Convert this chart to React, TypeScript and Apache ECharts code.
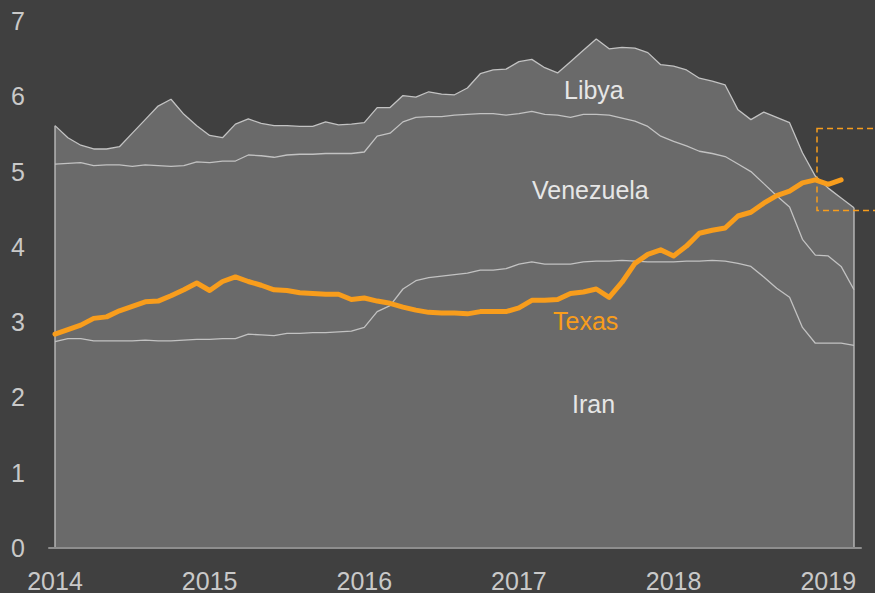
import React, { useEffect, useRef } from "react";
import * as echarts from "echarts";

// Monthly production, million barrels per day, Jan 2014 .. Mar 2019
const firstYear = 2014;
const yearTicks = [2014, 2015, 2016, 2017, 2018, 2019];
const yTicks = [0, 1, 2, 3, 4, 5, 6, 7];

const iran = [
  2.74, 2.78, 2.78, 2.75, 2.75, 2.75, 2.75, 2.76, 2.75, 2.75, 2.76, 2.77,
  2.77, 2.78, 2.78, 2.84, 2.83, 2.82, 2.85, 2.85, 2.86, 2.86, 2.87, 2.88,
  2.93, 3.14, 3.22, 3.44, 3.55, 3.59, 3.61, 3.63, 3.65, 3.69, 3.69, 3.71,
  3.77, 3.80, 3.77, 3.77, 3.77, 3.80, 3.81, 3.81, 3.82, 3.81, 3.80, 3.80,
  3.80, 3.81, 3.81, 3.82, 3.81, 3.78, 3.74, 3.60, 3.45, 3.33, 2.93, 2.72,
  2.72, 2.72, 2.69,
];

const venezuela = [
  2.36, 2.33, 2.34, 2.33, 2.34, 2.34, 2.32, 2.33, 2.33, 2.32, 2.32, 2.36,
  2.35, 2.36, 2.36, 2.38, 2.38, 2.37, 2.37, 2.38, 2.37, 2.38, 2.37, 2.36,
  2.33, 2.33, 2.29, 2.22, 2.17, 2.14, 2.12, 2.12, 2.11, 2.08, 2.08, 2.04,
  2.00, 2.00, 1.99, 1.98, 1.95, 1.96, 1.95, 1.94, 1.89, 1.86, 1.80, 1.67,
  1.60, 1.53, 1.46, 1.42, 1.39, 1.32, 1.26, 1.24, 1.23, 1.20, 1.17, 1.17,
  1.16, 1.02, 0.74,
];

const libya = [
  0.51, 0.34, 0.23, 0.22, 0.21, 0.24, 0.44, 0.60, 0.79, 0.89, 0.68, 0.48,
  0.36, 0.31, 0.49, 0.48, 0.43, 0.42, 0.39, 0.37, 0.37, 0.42, 0.38, 0.39,
  0.39, 0.38, 0.34, 0.35, 0.27, 0.33, 0.30, 0.27, 0.35, 0.53, 0.58, 0.61,
  0.69, 0.69, 0.62, 0.56, 0.74, 0.85, 1.00, 0.88, 0.94, 0.97, 0.98, 0.95,
  1.00, 1.01, 0.97, 0.96, 0.95, 0.72, 0.69, 0.95, 1.04, 1.12, 1.15, 1.05,
  0.90, 0.91, 1.09,
];

const texas = [
  2.84, 2.90, 2.96, 3.05, 3.07, 3.15, 3.21, 3.27, 3.28, 3.35, 3.43, 3.52,
  3.42, 3.54, 3.60, 3.54, 3.49, 3.43, 3.42, 3.39, 3.38, 3.37, 3.37, 3.30,
  3.32, 3.28, 3.25, 3.20, 3.16, 3.13, 3.12, 3.12, 3.11, 3.14, 3.14, 3.14,
  3.19, 3.29, 3.29, 3.30, 3.38, 3.40, 3.44, 3.33, 3.53, 3.78, 3.90, 3.96,
  3.88, 4.01, 4.18, 4.22, 4.25, 4.41, 4.46, 4.58, 4.68, 4.74, 4.85, 4.89,
  4.83, 4.89,
];

const BG = "#404040";
const AREA = "#6a6a6a";
const EDGE = "#c2c2c2";
const ORANGE = "#f89d1c";
const AXIS_TEXT = "#c9c9c9";
const FONT = "'Liberation Sans', Arial, sans-serif";

export default function App() {
  const ref = useRef<HTMLDivElement>(null);

  useEffect(() => {
    const chart = echarts.init(ref.current!, null, { renderer: "svg" });
    const pairs = (arr: number[]) => arr.map((v, i) => [i, v]);
    const last = iran.length - 1;

    // cumulative stack tops (Iran at the bottom, then Venezuela, then Libya)
    const iranTop = iran.map((v) => +v.toFixed(2));
    const venTop = iran.map((v, i) => +(v + venezuela[i]).toFixed(2));
    const libyaTop = iran.map((v, i) => +(v + venezuela[i] + libya[i]).toFixed(2));

    const areaSeries = (name: string, data: number[], z: number) => ({
      name,
      type: "line",
      data: pairs(data),
      symbol: "none",
      smooth: false,
      lineStyle: { color: EDGE, width: 1.3 },
      areaStyle: { color: AREA, opacity: 1, origin: "start" },
      z,
    });

    const edgeSeries = (i: number) => ({
      type: "line",
      data: [
        [i, 0],
        [i, libyaTop[i]],
      ],
      symbol: "none",
      lineStyle: { color: EDGE, width: 1.3 },
      z: 5,
    });

    const option = {
      animation: false,
      backgroundColor: BG,
      grid: { left: 49, right: 14, top: 21, bottom: 44, containLabel: false },
      xAxis: {
        type: "value",
        min: -0.4656,
        max: 62.543,
        axisLine: { show: true, lineStyle: { color: "#8e8e8e", width: 2 } },
        axisTick: { show: false },
        splitLine: { show: false },
        axisLabel: {
          customValues: yearTicks.map((y) => (y - firstYear) * 12),
          formatter: (v: number) => String(firstYear + Math.round(v / 12)),
          color: AXIS_TEXT,
          fontSize: 25,
          fontFamily: FONT,
          margin: 20,
        },
        z: 6,
      },
      yAxis: {
        type: "value",
        min: yTicks[0],
        max: yTicks[yTicks.length - 1],
        interval: 1,
        axisLine: { show: false },
        axisTick: { show: false },
        splitLine: { show: false },
        axisLabel: {
          color: AXIS_TEXT,
          fontSize: 25,
          fontFamily: FONT,
          margin: 24,
        },
      },
      series: [
        areaSeries("Libya", libyaTop, 2),
        areaSeries("Venezuela", venTop, 3),
        areaSeries("Iran", iranTop, 4),
        edgeSeries(0),
        edgeSeries(last),
        {
          name: "Texas",
          type: "line",
          data: pairs(texas),
          symbol: "none",
          smooth: false,
          lineStyle: { color: ORANGE, width: 5, cap: "round", join: "round" },
          z: 7,
        },
      ],
      graphic: [
        {
          type: "text",
          left: 564,
          top: 77,
          style: { text: "Libya", fill: "#e6e6e6", font: `25px ${FONT}` },
          z: 10,
        },
        {
          type: "text",
          left: 532,
          top: 177,
          style: { text: "Venezuela", fill: "#e6e6e6", font: `25px ${FONT}` },
          z: 10,
        },
        {
          type: "text",
          left: 553,
          top: 308,
          style: { text: "Texas", fill: ORANGE, font: `25px ${FONT}` },
          z: 10,
        },
        {
          type: "text",
          left: 572,
          top: 391,
          style: { text: "Iran", fill: "#e6e6e6", font: `25px ${FONT}` },
          z: 10,
        },
        {
          type: "rect",
          shape: { x: 817, y: 128.5, width: 80, height: 82 },
          style: {
            fill: "none",
            stroke: ORANGE,
            lineWidth: 1.5,
            lineDash: [6, 4],
          },
          z: 10,
        },
      ],
    };

    chart.setOption(option as any);
    return () => chart.dispose();
  }, []);

  return (
    <div
      ref={ref}
      style={{ position: "absolute", left: 0, top: 0, width: 875, height: 593 }}
    />
  );
}
